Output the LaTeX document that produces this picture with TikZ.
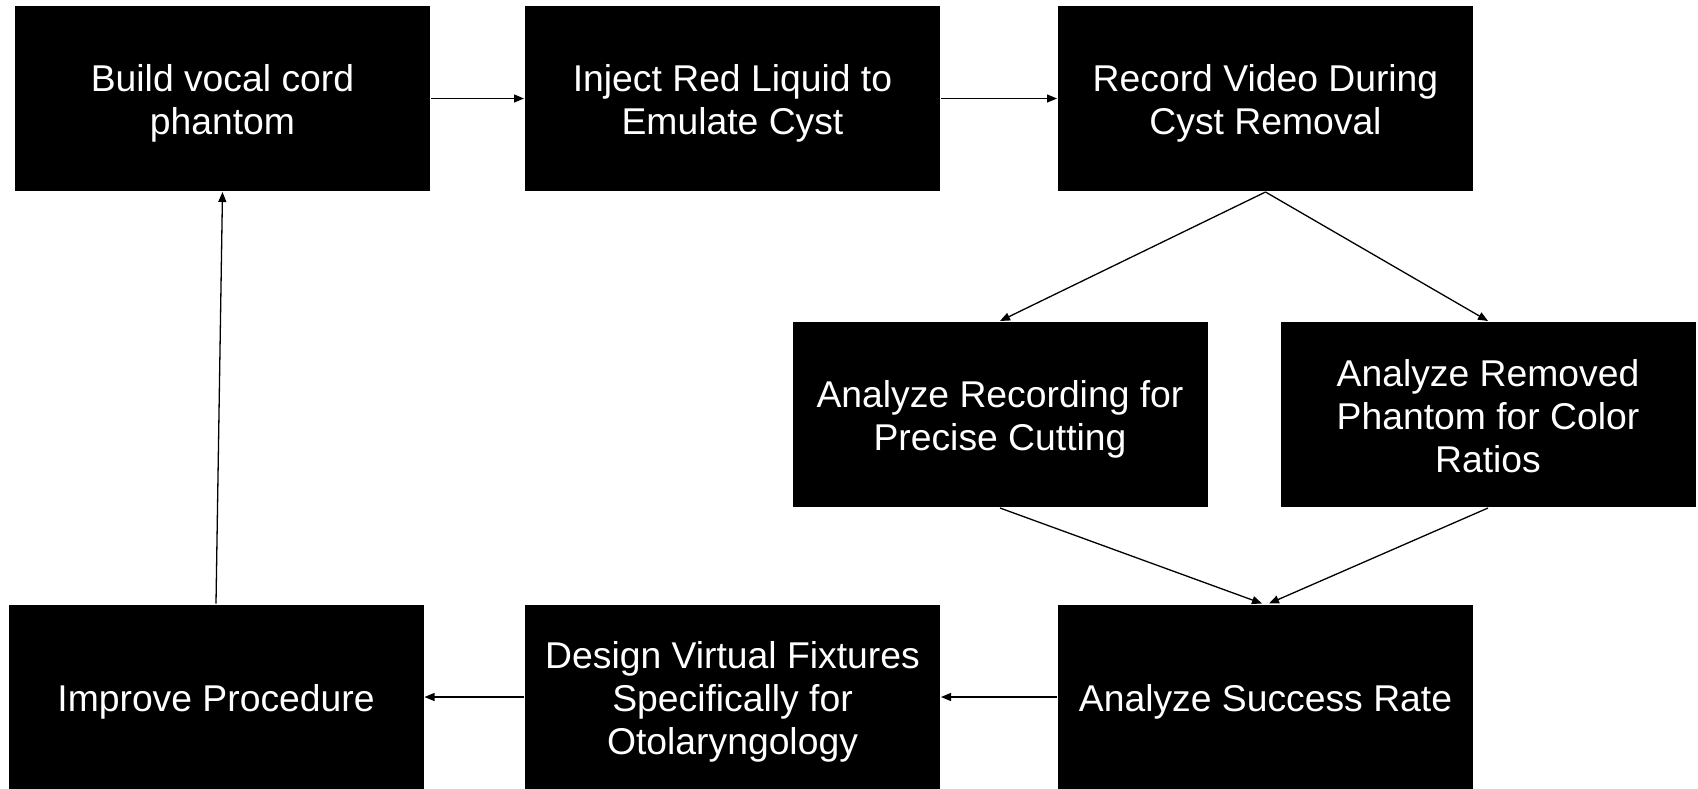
\documentclass[tikz,border=0pt]{standalone}
\usepackage{fontspec}
\setmainfont{Liberation Sans}
\usetikzlibrary{arrows.meta}
\begin{document}
\begin{tikzpicture}[x=1pt,y=-1pt,
  stepbox/.style={rectangle, fill=black, inner sep=0pt, outer sep=1pt,
    minimum width=415pt, minimum height=185pt},
  steptext/.style={text=white, align=center, inner sep=0pt, yshift=-4.5pt,
    font=\fontsize{37.3}{43}\selectfont},
  arr/.style={draw=black, line width=1.3pt, -{Triangle[length=10pt,width=8pt]}}]
\useasboundingbox (0,0) rectangle (1698,788);

% top row
\node[stepbox, label={[steptext]center:Build vocal cord\\phantom}] (b1) at (222.5,98.5) {};
\node[stepbox, label={[steptext]center:Inject Red Liquid to\\Emulate Cyst}] (b2) at (732.5,98.5) {};
\node[stepbox, label={[steptext]center:Record Video During\\Cyst Removal}] (b3) at (1265.5,98.5) {};

% middle row
\node[stepbox, label={[steptext]center:Analyze Recording for\\Precise Cutting}] (b4) at (1000,414.5) {};
\node[stepbox, label={[steptext,yshift=2.5pt]center:Analyze Removed\\Phantom for Color\\Ratios}] (b5) at (1488,414.5) {};

% bottom row
\node[stepbox, label={[steptext]center:Improve Procedure}] (b6) at (216,697) {};
\node[stepbox, label={[steptext]center:Design Virtual Fixtures\\Specifically for\\Otolaryngology}] (b7) at (732.5,697) {};
\node[stepbox, label={[steptext]center:Analyze Success Rate}] (b8) at (1265.5,697) {};

% connectors
\draw[arr] (b1) -- (b2);
\draw[arr] (b2) -- (b3);
\draw[arr] (b3.south) -- (b4.north);
\draw[arr] (b3.south) -- (b5.north);
\draw[arr] (b4.south) -- ([xshift=-3.5pt]b8.north);
\draw[arr] (b5.south) -- ([xshift=3.5pt]b8.north);
\draw[arr] (b8) -- (b7);
\draw[arr] (b7) -- (b6);
\draw[arr] (b6.north) -- (b1.south);
\end{tikzpicture}
\end{document}
